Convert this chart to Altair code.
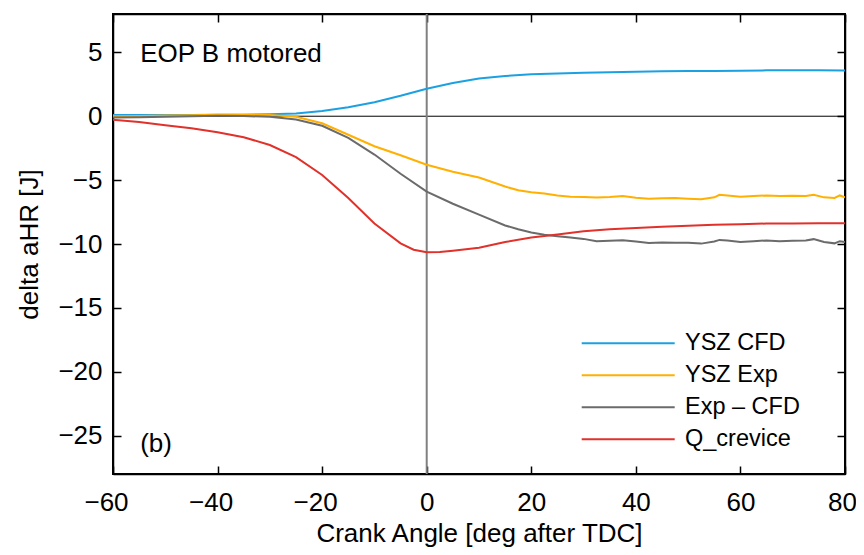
import altair as alt
import pandas as pd

FONT = "Liberation Sans"

series_names = ["YSZ CFD", "YSZ Exp", "Exp – CFD", "Q_crevice"]
series_colors = ["#1BA1E2", "#FFB000", "#6B6B6B", "#E0312B"]

x_ticks = [-60, -40, -20, 0, 20, 40, 60, 80]
y_ticks = [-25, -20, -15, -10, -5, 0, 5]

cfd_x = [-60, -55, -50, -45, -40, -35, -30, -25, -20, -15, -10, -5, 0, 5, 10, 15, 20,
         25, 30, 35, 40, 45, 50, 55, 60, 65, 70, 75, 80]
cfd_y = [0.1, 0.1, 0.1, 0.1, 0.12, 0.12, 0.15, 0.22, 0.4, 0.7, 1.1, 1.6, 2.15, 2.6, 2.95,
         3.15, 3.28, 3.35, 3.4, 3.45, 3.48, 3.52, 3.53, 3.54, 3.56, 3.59, 3.59, 3.59, 3.58]

exp_x = [-60, -55, -50, -45, -40, -35, -30, -25, -20, -15, -10, -5, 0, 5, 10, 15, 17.5, 20,
         22.5, 25, 27.5, 30, 32.5, 35, 37.5, 40, 42.5, 45, 47.5, 50, 52.5, 55, 56, 57.5, 60,
         62.5, 65, 67.5, 70, 72.5, 74, 76, 78, 79, 80]
exp_y = [0.0, 0.02, 0.05, 0.08, 0.12, 0.12, 0.1, -0.05, -0.55, -1.45, -2.35, -3.05, -3.8,
         -4.35, -4.8, -5.5, -5.8, -5.95, -6.05, -6.2, -6.3, -6.32, -6.36, -6.33, -6.25,
         -6.38, -6.45, -6.42, -6.4, -6.45, -6.5, -6.35, -6.15, -6.2, -6.3, -6.25, -6.2,
         -6.25, -6.22, -6.25, -6.15, -6.35, -6.4, -6.2, -6.35]

diff_x = exp_x
diff_y = [-0.1, -0.08, -0.05, 0.0, 0.03, 0.02, -0.05, -0.25, -0.75, -1.7, -3.0, -4.5, -5.9,
          -6.85, -7.7, -8.55, -8.85, -9.1, -9.28, -9.4, -9.5, -9.6, -9.78, -9.75, -9.7,
          -9.8, -9.92, -9.88, -9.9, -9.9, -9.97, -9.8, -9.68, -9.72, -9.85, -9.78, -9.72,
          -9.78, -9.75, -9.72, -9.62, -9.85, -9.95, -9.78, -9.85]

crev_x = [-60, -55, -50, -45, -40, -35, -30, -25, -20, -15, -10, -5, -2.5, 0, 2.5, 5, 10,
          15, 20, 25, 30, 35, 40, 45, 50, 55, 60, 65, 70, 75, 80]
crev_y = [-0.28, -0.45, -0.7, -0.95, -1.25, -1.65, -2.25, -3.2, -4.6, -6.4, -8.4, -9.95,
          -10.45, -10.65, -10.63, -10.52, -10.3, -9.85, -9.5, -9.25, -9.0, -8.85, -8.75,
          -8.65, -8.58, -8.5, -8.45, -8.4, -8.4, -8.38, -8.38]

ann_x = [-54.8, -54.8]
ann_y = [4.25, -26.3]
ann_text = ["EOP B motored", "(b)"]

rows = []
for name, xs, ys in zip(series_names, [cfd_x, exp_x, diff_x, crev_x],
                        [cfd_y, exp_y, diff_y, crev_y]):
    for a, b in zip(xs, ys):
        rows.append({"x": a, "y": b, "series": name})
df = pd.DataFrame(rows)
ann = pd.DataFrame({"x": ann_x, "y": ann_y, "t": ann_text})

W, H = 732, 460
xscale = alt.Scale(domain=[-60, 80], nice=False, zero=False)
yscale = alt.Scale(domain=[-28, 8], nice=False, zero=False)


def tick_axis(orient, offset, values):
    # inward-pointing ticks: an axis of the opposite side moved onto this edge
    return alt.Axis(orient=orient, offset=offset, values=values, labels=False,
                    domain=True, domainColor="black", domainWidth=1.5,
                    ticks=True, tickSize=8, tickWidth=1.5, tickColor="black",
                    grid=False, title=None)


x_main = alt.Axis(values=x_ticks, format="d", orient="bottom", domain=False, ticks=False,
                  tickSize=0, grid=False, labelFontSize=26, labelFont=FONT,
                  labelColor="black", labelPadding=36, labelBaseline="alphabetic",
                  labelAlign="center", labelFlush=False, labelOverlap=False,
                  labelOffset={"condition": [{"test": "datum.value < 0", "value": -7},
                                             {"test": "datum.value == 80", "value": -3}],
                               "value": 0},
                  title="Crank Angle [deg after TDC]", titleFont=FONT, titleFontSize=26,
                  titleFontWeight="normal", titleColor="black", titleX=W / 2, titleY=67,
                  titleBaseline="alphabetic", titleAlign="center")

y_main = alt.Axis(values=y_ticks, format="d", orient="left", domain=False, ticks=False,
                  tickSize=0, grid=False, labelFontSize=26, labelFont=FONT,
                  labelColor="black", labelPadding=11, labelBaseline="middle",
                  labelAlign="right", labelFlush=False, labelOverlap=False,
                  title="delta aHR [J]", titleFont=FONT, titleFontSize=26,
                  titleFontWeight="normal", titleColor="black", titleX=-75.5,
                  titleY=H / 2, titleAngle=270, titleBaseline="alphabetic",
                  titleAlign="center")

legend = alt.Legend(title=None, orient="none", legendX=467.7, legendY=313.5,
                    symbolType="stroke", symbolSize=8649, symbolStrokeWidth=2,
                    clipHeight=31.7, rowPadding=0, labelFont=FONT, labelFontSize=23.5,
                    labelColor="black", labelOffset=9.3, padding=0, labelLimit=400)

hrule = alt.Chart(pd.DataFrame({"y": [0]})).mark_rule(color="black", strokeWidth=1).encode(
    y=alt.Y("y:Q", scale=yscale, axis=tick_axis("right", -W, y_ticks))
)
vrule = alt.Chart(pd.DataFrame({"x": [0]})).mark_rule(color="#808080", strokeWidth=2).encode(
    x=alt.X("x:Q", scale=xscale, axis=tick_axis("top", -H, x_ticks))
)
lines = alt.Chart(df).mark_line(strokeWidth=2, clip=True).encode(
    x=alt.X("x:Q", scale=xscale, axis=x_main),
    y=alt.Y("y:Q", scale=yscale, axis=y_main),
    color=alt.Color("series:N", scale=alt.Scale(domain=series_names, range=series_colors),
                    legend=legend),
    detail="series:N",
)
text = alt.Chart(ann).mark_text(align="left", baseline="alphabetic", font=FONT,
                                fontSize=26, color="black").encode(
    x=alt.X("x:Q", scale=xscale, axis=tick_axis("bottom", -H, x_ticks)),
    y=alt.Y("y:Q", scale=yscale, axis=tick_axis("left", -W, y_ticks)),
    text="t:N",
)

chart = (
    alt.layer(hrule, vrule, lines, text)
    .resolve_axis(x="independent", y="independent")
    .properties(width=W, height=H, autosize=alt.AutoSizeParams(type="none"),
                padding={"left": 105, "top": 6, "right": 11, "bottom": 73},
                background="white")
    .configure_view(stroke="black", strokeWidth=2)
)

chart.save("out.html", embed_options={"renderer": "svg", "actions": False})
